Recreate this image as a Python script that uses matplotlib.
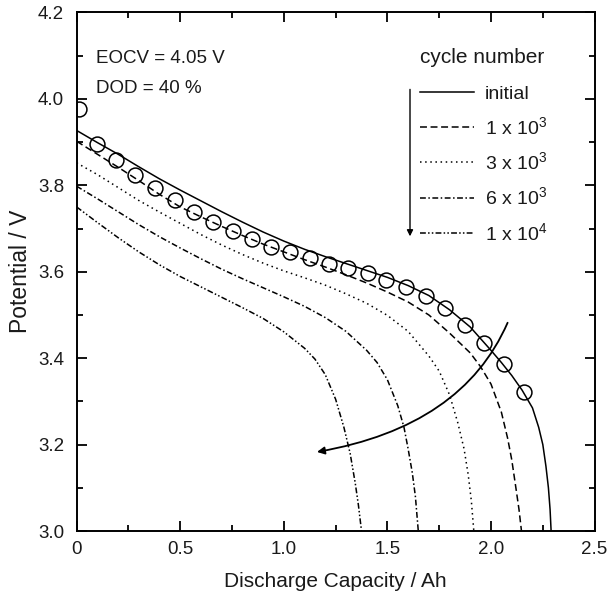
import matplotlib
matplotlib.use('Agg')
import matplotlib.pyplot as plt
from matplotlib.path import Path
from matplotlib.patches import FancyArrowPatch

plt.rcParams['font.family'] = ['Liberation Sans', 'DejaVu Sans']
plt.rcParams['mathtext.fontset'] = 'custom'
plt.rcParams['mathtext.rm'] = 'Liberation Sans'
plt.rcParams['mathtext.it'] = 'Liberation Sans:italic'
plt.rcParams['lines.scale_dashes'] = False

TXT = '#1a1a1a'

# ---------------- data ----------------
cap_initial = [0.0, 0.1, 0.2, 0.3, 0.4, 0.5, 0.6, 0.7, 0.8, 0.9, 1.0, 1.1, 1.2, 1.3, 1.4,
               1.5, 1.6, 1.7, 1.8, 1.9, 2.0, 2.05, 2.1, 2.15, 2.2, 2.23, 2.25, 2.265,
               2.277, 2.285, 2.29]
v_initial = [3.927, 3.899, 3.872, 3.843, 3.815, 3.789, 3.764, 3.739, 3.715, 3.692, 3.671,
             3.652, 3.635, 3.619, 3.603, 3.587, 3.568, 3.545, 3.512, 3.472, 3.418, 3.39,
             3.36, 3.326, 3.285, 3.24, 3.20, 3.15, 3.10, 3.05, 3.0]

cap_1e3 = [0.0, 0.1, 0.2, 0.3, 0.4, 0.5, 0.6, 0.7, 0.8, 0.9, 1.0, 1.1, 1.2, 1.3, 1.4, 1.5,
           1.6, 1.7, 1.8, 1.9, 1.95, 2.0, 2.05, 2.08, 2.1, 2.12, 2.135, 2.147]
v_1e3 = [3.902, 3.872, 3.842, 3.811, 3.779, 3.750, 3.727, 3.705, 3.684, 3.664, 3.646,
         3.628, 3.611, 3.593, 3.574, 3.553, 3.530, 3.500, 3.458, 3.412, 3.38, 3.34,
         3.275, 3.215, 3.165, 3.10, 3.05, 3.0]

cap_3e3 = [0.0, 0.1, 0.2, 0.3, 0.4, 0.5, 0.6, 0.7, 0.8, 0.9, 1.0, 1.1, 1.2, 1.3, 1.4, 1.5,
           1.6, 1.7, 1.75, 1.8, 1.84, 1.87, 1.89, 1.905, 1.917]
v_3e3 = [3.852, 3.825, 3.795, 3.765, 3.738, 3.712, 3.686, 3.662, 3.640, 3.620, 3.602,
         3.586, 3.569, 3.549, 3.527, 3.499, 3.462, 3.405, 3.37, 3.315, 3.25, 3.19,
         3.13, 3.07, 3.0]

cap_6e3 = [0.0, 0.1, 0.2, 0.3, 0.4, 0.5, 0.6, 0.7, 0.8, 0.9, 1.0, 1.1, 1.2, 1.3, 1.4,
           1.45, 1.5, 1.55, 1.58, 1.6, 1.62, 1.635, 1.649]
v_6e3 = [3.798, 3.769, 3.739, 3.709, 3.681, 3.655, 3.630, 3.606, 3.584, 3.563, 3.542,
         3.520, 3.494, 3.462, 3.418, 3.39, 3.35, 3.29, 3.24, 3.19, 3.135, 3.08, 3.0]

cap_1e4 = [0.0, 0.1, 0.2, 0.3, 0.4, 0.5, 0.6, 0.7, 0.8, 0.9, 1.0, 1.1, 1.15, 1.2, 1.25,
           1.29, 1.32, 1.345, 1.36, 1.375]
v_1e4 = [3.750, 3.714, 3.679, 3.646, 3.616, 3.589, 3.565, 3.541, 3.517, 3.492, 3.461,
         3.423, 3.398, 3.362, 3.305, 3.24, 3.18, 3.11, 3.06, 3.0]

# measured points (open circles)
cap_meas = [0.01, 0.097, 0.188, 0.284, 0.377, 0.474, 0.565, 0.660, 0.755, 0.847, 0.937,
            1.028, 1.124, 1.219, 1.309, 1.404, 1.494, 1.590, 1.685, 1.777, 1.874, 1.967,
            2.061, 2.158]
v_meas = [3.976, 3.896, 3.858, 3.824, 3.794, 3.766, 3.739, 3.716, 3.695, 3.676, 3.657,
          3.645, 3.631, 3.619, 3.608, 3.596, 3.582, 3.565, 3.544, 3.515, 3.476, 3.435,
          3.387, 3.322]

series_labels = ['initial', '1 x 10$^3$', '3 x 10$^3$', '6 x 10$^3$', '1 x 10$^4$']
x_ticks = [0, 0.5, 1.0, 1.5, 2.0, 2.5]
x_ticklabels = ['0', '0.5', '1.0', '1.5', '2.0', '2.5']
y_ticks = [3.0, 3.2, 3.4, 3.6, 3.8, 4.0, 4.2]
y_ticklabels = ['3.0', '3.2', '3.4', '3.6', '3.8', '4.0', '4.2']

# ---------------- figure ----------------
fig = plt.figure(figsize=(6.08, 5.94), dpi=100)
ax = fig.add_axes([0.126, 0.106, 0.852, 0.873])

lw = 1.1
styles = [
    dict(linestyle='-'),
    dict(dashes=(5, 2.6)),
    dict(dashes=(1.1, 2.6)),
    dict(dashes=(4.2, 1.8, 1.1, 1.8)),
    dict(dashes=(4.2, 1.6, 1.1, 1.6, 1.1, 1.6)),
]
xs = [cap_initial, cap_1e3, cap_3e3, cap_6e3, cap_1e4]
ys = [v_initial, v_1e3, v_3e3, v_6e3, v_1e4]
handles = []
for x, y, st, lab in zip(xs, ys, styles, series_labels):
    h, = ax.plot(x, y, color='black', lw=lw, label=lab, **st)
    handles.append(h)

ax.plot(cap_meas, v_meas, linestyle='none', marker='o', ms=10.7, mfc='none',
        mec='black', mew=1.1, zorder=3)

ax.set_xlim(0, 2.5)
ax.set_ylim(3.0, 4.2)
ax.set_xticks(x_ticks)
ax.set_xticklabels(x_ticklabels)
ax.set_yticks(y_ticks)
ax.set_yticklabels(y_ticklabels)
ax.set_xticks([0.25, 0.75, 1.25, 1.75, 2.25], minor=True)
ax.set_yticks([3.1, 3.3, 3.5, 3.7, 3.9, 4.1], minor=True)
ax.tick_params(which='both', direction='in', top=True, right=True, width=1.3,
               labelsize=13.5, labelcolor=TXT)
ax.tick_params(axis='y', which='major', length=7, pad=9)
ax.tick_params(axis='x', which='major', length=7, pad=7)
ax.tick_params(which='minor', length=4)
for s in ax.spines.values():
    s.set_linewidth(1.4)

ax.set_xlabel('Discharge Capacity / Ah', fontsize=15, color=TXT, labelpad=10)
ax.set_ylabel('Potential / V', fontsize=16.5, color=TXT, labelpad=4.5)

ax.text(0.096, 4.083, 'EOCV = 4.05 V', fontsize=13.5, color=TXT, va='baseline')
ax.text(0.096, 4.014, 'DOD = 40 %', fontsize=13.5, color=TXT, va='baseline')

leg = ax.legend(handles=handles, title='cycle number', loc='upper left',
                bbox_to_anchor=(0.663, 0.931), frameon=False, fontsize=14,
                title_fontsize=15, handlelength=2.8, handletextpad=0.55,
                labelspacing=0.69, borderpad=0, borderaxespad=0, alignment='left')
leg._legend_box.sep = 12.8
for t in leg.get_texts():
    t.set_color(TXT)
leg.get_title().set_color(TXT)

# vertical arrow beside the legend
ax.annotate('', xy=(1.609, 3.682), xytext=(1.609, 4.022),
            arrowprops=dict(arrowstyle='-|>', color='black', lw=1.0,
                            mutation_scale=9, shrinkA=0, shrinkB=0))

# curved arrow across the curves
arc = Path([(2.08, 3.482), (1.862, 3.242), (1.16, 3.183)],
           [Path.MOVETO, Path.CURVE3, Path.CURVE3])
ax.add_patch(FancyArrowPatch(path=arc, arrowstyle='-|>', color='black', lw=1.3,
                             mutation_scale=11, transform=ax.transData))

fig.savefig('out.png', dpi=100)
